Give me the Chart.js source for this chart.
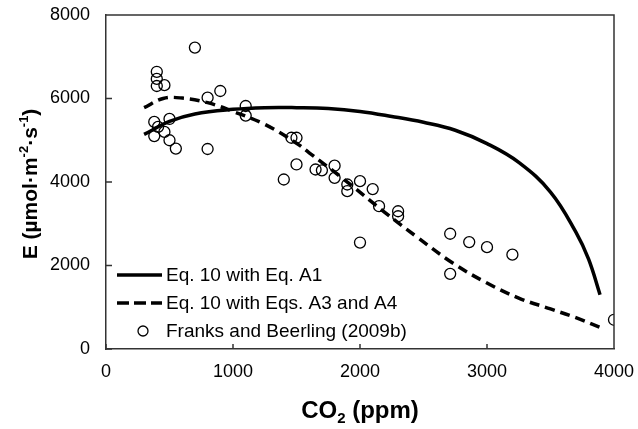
<!DOCTYPE html>
<html>
<head>
<meta charset="utf-8">
<script src="https://cdn.jsdelivr.net/npm/chart.js@4/dist/chart.umd.min.js"></script>
<style>
html, body { margin: 0; padding: 0; background: #fff; }
#wrap { width: 638px; height: 429px; }
</style>
</head>
<body>
<div id="wrap"><canvas id="c" width="638" height="429"></canvas></div>
<script>
// model curve: Eq. 10 with Eq. A1
let eqA1X = [300, 500, 700, 1000, 1250, 1500, 1750, 2000, 2250, 2500, 2750, 3000, 3250, 3500, 3700, 3800, 3890];
let eqA1Y = [5140, 5450, 5630, 5740, 5780, 5780, 5760, 5690, 5570, 5430, 5240, 4920, 4470, 3760, 2800, 2150, 1300];

// model curve: Eq. 10 with Eqs. A3 and A4
let eqA3X = [300, 450, 600, 800, 1000, 1250, 1500, 1600, 1850, 2200, 2450, 2730, 3000, 3250, 3500, 3700, 3890];
let eqA3Y = [5780, 6000, 6010, 5900, 5690, 5380, 4930, 4700, 4120, 3260, 2680, 2060, 1580, 1220, 960, 750, 520];

// observations, Franks and Beerling (2009b)
let obsX = [700, 400, 400, 400, 460, 900, 800, 1100, 1100, 500, 380, 410, 380, 460, 500, 550, 800,
            1460, 1500, 1500, 1400, 1650, 1700, 1800, 1800, 1900, 1900, 2000, 2100, 2150, 2300, 2300,
            2000, 2710, 2860, 3000, 3200, 2710, 4000];
let obsY = [7220, 6640, 6470, 6300, 6320, 6180, 6020, 5820, 5590, 5510, 5440, 5320, 5100, 5200, 5000, 4800, 4790,
            5060, 5060, 4420, 4060, 4300, 4280, 4390, 4100, 3940, 3780, 4020, 3830, 3420, 3300, 3180,
            2550, 2760, 2560, 2440, 2260, 1800, 700];

let xTicks = [0, 1000, 2000, 3000, 4000];
let yTicks = [0, 2000, 4000, 6000, 8000];

let legendLabels = ['Eq. 10 with Eq. A1', 'Eq. 10 with Eqs. A3 and A4', 'Franks and Beerling (2009b)'];

function pts(xs, ys) {
    return xs.map((x, i) => ({x: x, y: ys[i]}));
}

const FONT = '"Liberation Sans", Arial, sans-serif';
const AXIS = '#333';

function richText(ctx, parts, x, y, rotate) {
    ctx.save();
    ctx.translate(x, y);
    if (rotate) ctx.rotate(-Math.PI / 2);
    let w = 0;
    parts.forEach(p => {
        ctx.font = 'bold ' + p.size + 'px ' + FONT;
        w += ctx.measureText(p.t).width;
    });
    let cx = -w / 2;
    ctx.textBaseline = 'alphabetic';
    ctx.fillStyle = '#000';
    parts.forEach(p => {
        ctx.font = 'bold ' + p.size + 'px ' + FONT;
        ctx.fillText(p.t, cx, p.dy || 0);
        cx += ctx.measureText(p.t).width;
    });
    ctx.restore();
}

const decor = {
    id: 'decor',
    afterDraw(chart) {
        let ctx = chart.ctx;
        let a = chart.chartArea;
        let xs = chart.scales.x, ys = chart.scales.y;

        // top and right frame, inward ticks
        ctx.save();
        ctx.strokeStyle = AXIS;
        ctx.lineWidth = 1.5;
        ctx.beginPath();
        ctx.moveTo(a.left, a.top);
        ctx.lineTo(a.right, a.top);
        ctx.lineTo(a.right, a.bottom);
        xTicks.forEach(v => {
            let px = xs.getPixelForValue(v);
            ctx.moveTo(px, a.bottom);
            ctx.lineTo(px, a.bottom - 5);
        });
        yTicks.forEach(v => {
            let py = ys.getPixelForValue(v);
            ctx.moveTo(a.left, py);
            ctx.lineTo(a.left + 6, py);
        });
        ctx.stroke();
        ctx.restore();

        // axis titles
        richText(ctx, [
            {t: 'CO', size: 24},
            {t: '2', size: 15, dy: 5},
            {t: ' (ppm)', size: 24}
        ], 360, 418, false);
        richText(ctx, [
            {t: 'E (\u00b5mol\u00b7m', size: 21},
            {t: '-2', size: 13, dy: -9},
            {t: '\u00b7s', size: 21},
            {t: '-1', size: 13, dy: -9},
            {t: ')', size: 21}
        ], 37, 184, true);

        // legend inside the plot
        let rows = [275, 303, 331];
        ctx.save();
        ctx.strokeStyle = '#000';
        ctx.lineWidth = 3.5;
        ctx.beginPath();
        ctx.moveTo(117, rows[0]);
        ctx.lineTo(162, rows[0]);
        ctx.stroke();
        ctx.setLineDash([12, 5]);
        ctx.beginPath();
        ctx.moveTo(117, rows[1]);
        ctx.lineTo(162, rows[1]);
        ctx.stroke();
        ctx.setLineDash([]);
        ctx.lineWidth = 1.3;
        ctx.beginPath();
        ctx.arc(143, rows[2], 5, 0, Math.PI * 2);
        ctx.stroke();
        ctx.fillStyle = '#000';
        ctx.font = '19px ' + FONT;
        ctx.textBaseline = 'middle';
        legendLabels.forEach((t, i) => ctx.fillText(t, 166, rows[i] + 1));
        ctx.restore();
    }
};

let data = {
    datasets: [{
        label: legendLabels[0],
        data: pts(eqA1X, eqA1Y),
        showLine: true,
        borderColor: '#000',
        borderWidth: 3.5,
        pointRadius: 0,
        tension: 0.4,
        fill: false
    }, {
        label: legendLabels[1],
        data: pts(eqA3X, eqA3Y),
        showLine: true,
        borderColor: '#000',
        borderWidth: 3.5,
        borderDash: [10, 6],
        pointRadius: 0,
        tension: 0.4,
        fill: false
    }, {
        label: legendLabels[2],
        data: pts(obsX, obsY),
        showLine: false,
        pointRadius: 5.5,
        pointBorderWidth: 1.3,
        pointBorderColor: '#000',
        pointBackgroundColor: 'rgba(0,0,0,0)'
    }]
};

let config = {
    type: 'scatter',
    data: data,
    options: {
        responsive: false,
        animation: false,
        devicePixelRatio: 1,
        layout: {padding: {top: 15, right: 24, left: 0, bottom: 0}},
        plugins: {
            legend: {display: false},
            tooltip: {enabled: false}
        },
        scales: {
            x: {
                type: 'linear',
                min: 0,
                max: 4000,
                afterFit: s => { s.height = 80; s.paddingLeft = 0; s.paddingRight = 0; },
                afterBuildTicks: s => { s.ticks = xTicks.map(v => ({value: v})); },
                ticks: {color: '#000', font: {family: FONT, size: 18}, padding: 12, maxRotation: 0, callback: v => String(v)},
                grid: {display: false, drawTicks: false},
                border: {display: true, color: AXIS, width: 1.5}
            },
            y: {
                type: 'linear',
                min: 0,
                max: 8000,
                afterFit: s => { s.width = 106; s.paddingTop = 0; s.paddingBottom = 0; },
                afterBuildTicks: s => { s.ticks = yTicks.map(v => ({value: v})); },
                ticks: {color: '#000', font: {family: FONT, size: 18}, padding: 16, callback: v => String(v)},
                grid: {display: false, drawTicks: false},
                border: {display: true, color: AXIS, width: 1.5}
            }
        }
    },
    plugins: [decor]
};

new Chart(document.getElementById('c'), config);
</script>
</body>
</html>
